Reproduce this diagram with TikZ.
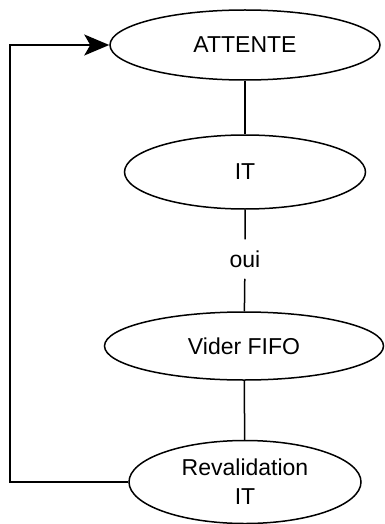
\documentclass[tikz,border=0pt]{standalone}
\usepackage{fontspec}
\setmainfont{Liberation Sans}
\usepackage{tikz}
\usetikzlibrary{arrows.meta,shapes.geometric}

\begin{document}
\begin{tikzpicture}[x=1pt,y=-1pt,line width=1.5pt,
  e/.style={draw,ellipse,inner sep=0pt,font=\fontsize{23}{29}\selectfont,align=center},
  ar/.style={-{Stealth[length=25pt,width=21pt,inset=6pt]}}]
\useasboundingbox[fill=white] (0,0) rectangle (384,524);
\node[e,minimum width=270pt,minimum height=70pt] (att) at (245,45)  {ATTENTE};
\node[e,minimum width=241pt,minimum height=74pt] (it)  at (245,172) {IT};
\node[font=\fontsize{23}{29}\selectfont,minimum height=38pt,inner sep=0pt] (oui) at (245,259) {oui};
\node[e,minimum width=279pt,minimum height=68pt] (vf)  at (244,346) {Vider FIFO};
\node[e,minimum width=232pt,minimum height=83pt] (rev) at (245,482) {Revalidation\\IT};
\coordinate (g) at (10,300);
\draw (att) -- (it);
\draw (it) -- (oui) -- (vf);
\draw (vf) -- (rev);
\draw[ar] (rev.west) -| (g) |- (att.west);
\end{tikzpicture}
\end{document}
